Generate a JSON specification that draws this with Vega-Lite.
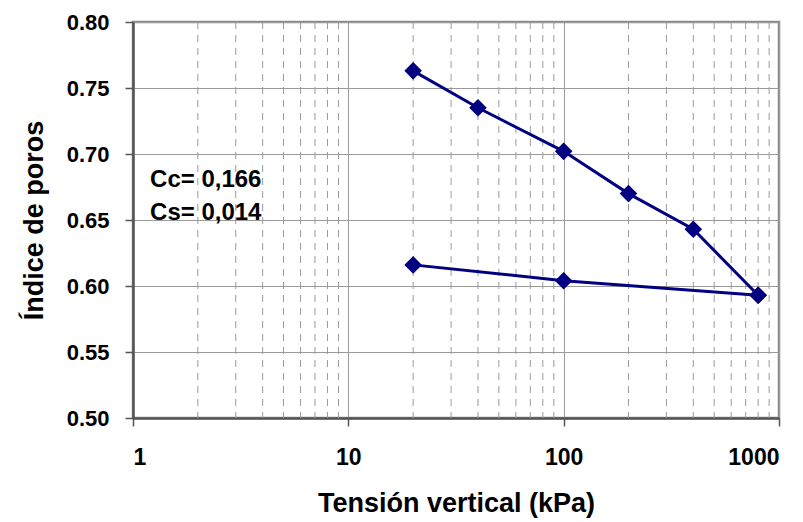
{
  "$schema": "https://vega.github.io/schema/vega-lite/v6.json",
  "width": 646,
  "height": 396,
  "autosize": {"type": "none"},
  "padding": {"left": 133, "top": 22, "right": 24, "bottom": 104},
  "background": "white",
  "config": {
    "font": "Liberation Sans",
    "view": {"stroke": "#8a8a8a", "strokeWidth": 2.5},
    "axis": {
      "labelFont": "Liberation Sans",
      "titleFont": "Liberation Sans",
      "labelFontWeight": "bold",
      "titleFontWeight": "bold",
      "titleFontSize": 27,
      "labelColor": "black",
      "titleColor": "black",
      "domainColor": "#555555",
      "domainWidth": 2.5,
      "tickColor": "#555555",
      "tickWidth": 1.5,
      "tickSize": 8,
      "gridColor": "#9a9a9a",
      "gridWidth": 1
    },
    "axisX": {"labelFontSize": 23, "labelPadding": 20, "titlePadding": 21},
    "axisY": {"labelFontSize": 22, "labelPadding": 16, "titlePadding": 18}
  },
  "datasets": {
    "curve": [
      {"tension": 20, "e": 0.763, "serie": "carga", "orden": 1},
      {"tension": 40, "e": 0.735, "serie": "carga", "orden": 2},
      {"tension": 100, "e": 0.702, "serie": "carga", "orden": 3},
      {"tension": 200, "e": 0.670, "serie": "carga", "orden": 4},
      {"tension": 400, "e": 0.643, "serie": "carga", "orden": 5},
      {"tension": 800, "e": 0.593, "serie": "carga", "orden": 6},
      {"tension": 800, "e": 0.593, "serie": "descarga", "orden": 1},
      {"tension": 100, "e": 0.604, "serie": "descarga", "orden": 2},
      {"tension": 20, "e": 0.616, "serie": "descarga", "orden": 3}
    ],
    "minor": [
      {"v": 2}, {"v": 3}, {"v": 4}, {"v": 5}, {"v": 6}, {"v": 7}, {"v": 8}, {"v": 9},
      {"v": 20}, {"v": 30}, {"v": 40}, {"v": 50}, {"v": 60}, {"v": 70}, {"v": 80}, {"v": 90},
      {"v": 200}, {"v": 300}, {"v": 400}, {"v": 500}, {"v": 600}, {"v": 700}, {"v": 800}, {"v": 900}
    ],
    "notes": [
      {"x": 1.2, "y": 0.680, "t": "Cc= 0,166"},
      {"x": 1.2, "y": 0.655, "t": "Cs= 0,014"}
    ]
  },
  "layer": [
    {
      "data": {"name": "minor"},
      "mark": {"type": "rule", "color": "#9a9a9a", "strokeWidth": 1, "strokeDash": [7, 6]},
      "encoding": {
        "x": {
          "field": "v", "type": "quantitative",
          "scale": {"type": "log", "domain": [1, 1000], "nice": false},
          "axis": {
            "title": "Tensión vertical (kPa)",
            "values": [1, 10, 100, 1000],
            "format": "d",
            "grid": true
          }
        }
      }
    },
    {
      "data": {"name": "curve"},
      "mark": {"type": "line", "color": "#000080", "strokeWidth": 3},
      "encoding": {
        "x": {"field": "tension", "type": "quantitative", "title": "Tensión vertical (kPa)"},
        "y": {
          "field": "e", "type": "quantitative",
          "scale": {"domain": [0.5, 0.8], "nice": false, "zero": false},
          "axis": {
            "title": "Índice de poros",
            "values": [0.5, 0.55, 0.6, 0.65, 0.7, 0.75, 0.8],
            "format": ".2f",
            "grid": true
          }
        },
        "detail": {"field": "serie"},
        "order": {"field": "orden", "type": "quantitative"}
      }
    },
    {
      "data": {"name": "curve"},
      "mark": {"type": "point", "shape": "diamond", "filled": true, "color": "#000080", "opacity": 1, "size": 310},
      "encoding": {
        "x": {"field": "tension", "type": "quantitative", "title": "Tensión vertical (kPa)"},
        "y": {"field": "e", "type": "quantitative", "title": "Índice de poros"}
      }
    },
    {
      "data": {"name": "notes"},
      "mark": {"type": "text", "align": "left", "baseline": "middle", "fontSize": 24, "fontWeight": "bold", "font": "Liberation Sans", "color": "black"},
      "encoding": {
        "x": {"field": "x", "type": "quantitative", "title": "Tensión vertical (kPa)"},
        "y": {"field": "y", "type": "quantitative", "title": "Índice de poros"},
        "text": {"field": "t"}
      }
    }
  ]
}
